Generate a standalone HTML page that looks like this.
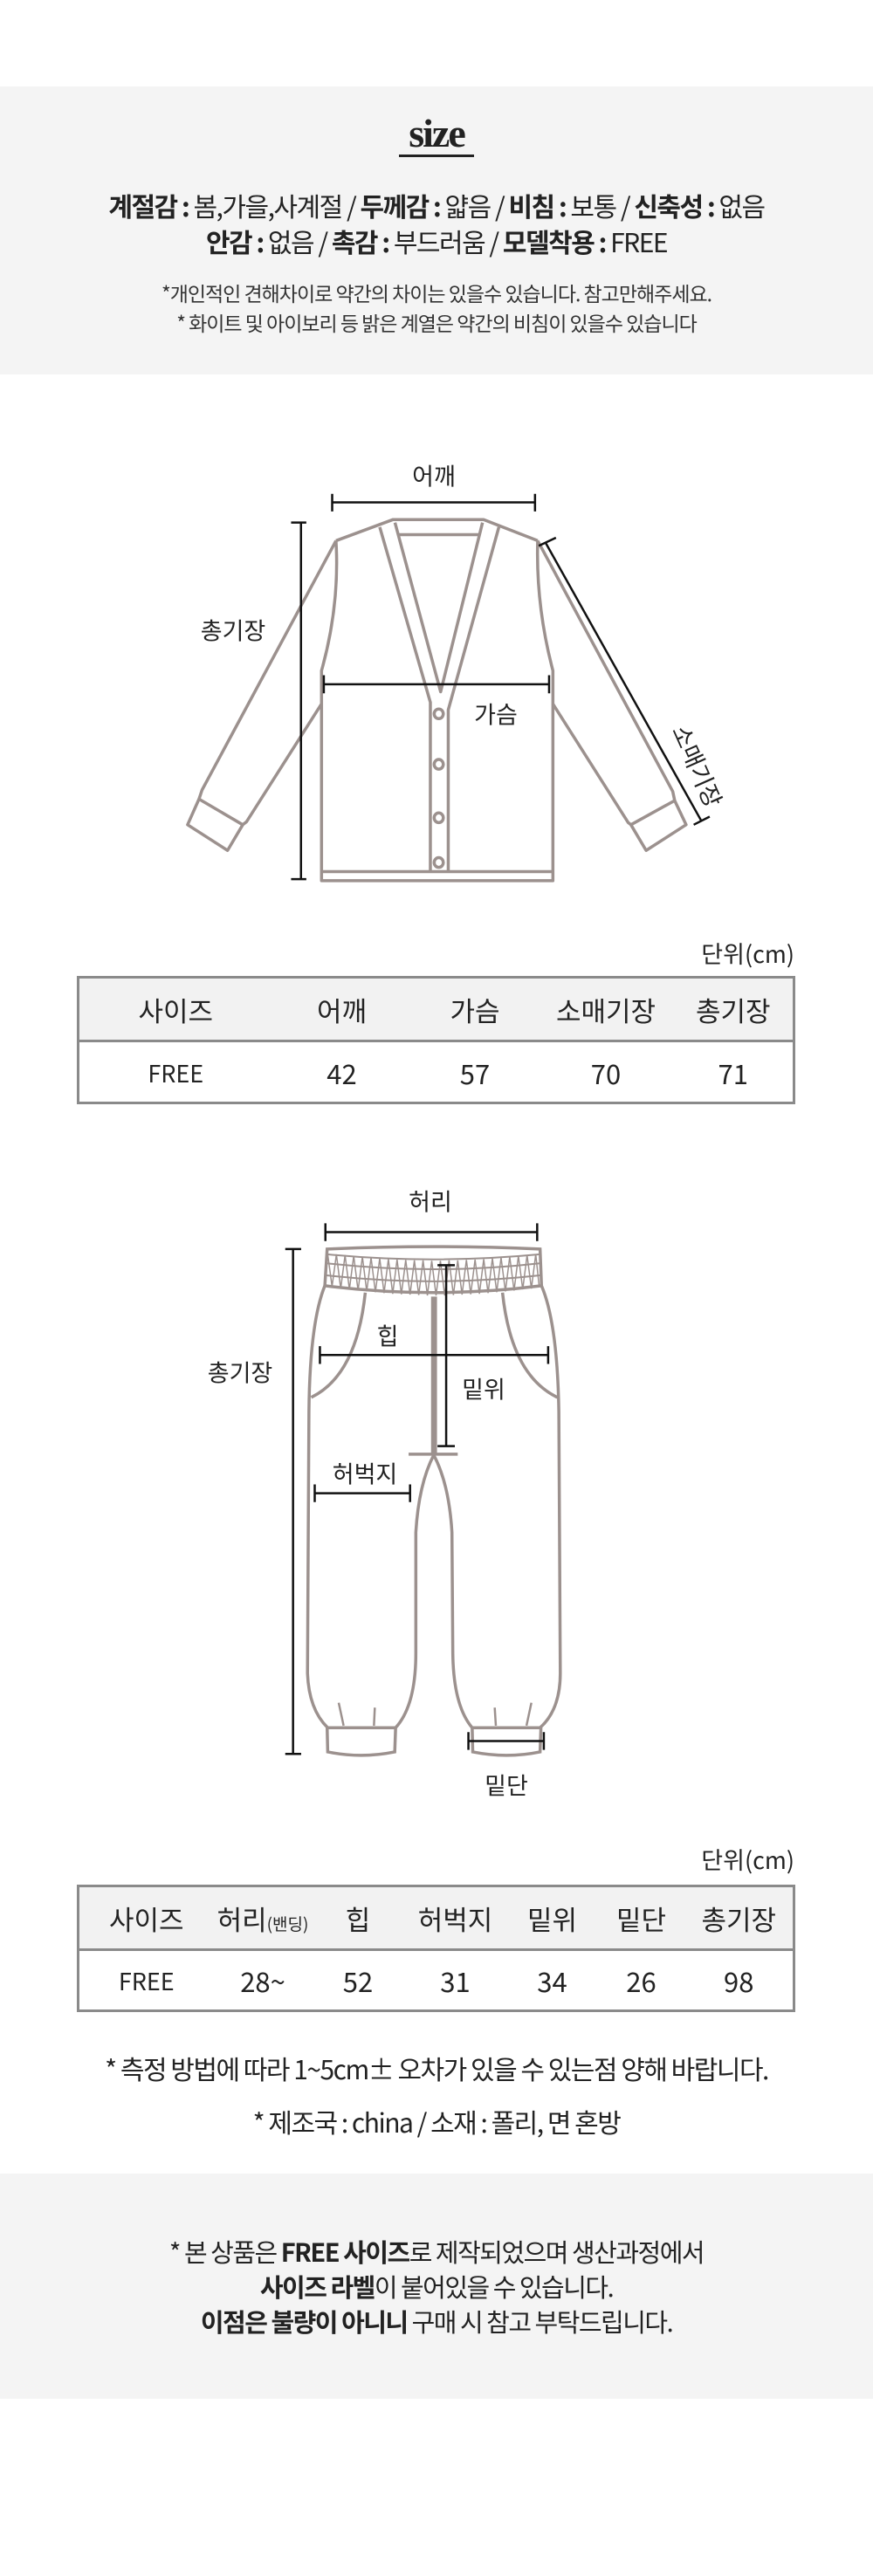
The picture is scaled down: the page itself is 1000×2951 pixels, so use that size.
<!DOCTYPE html>
<html><head><meta charset="utf-8">
<style>
*{margin:0;padding:0;box-sizing:border-box}
body{width:1000px;height:2951px;background:#fff;position:relative;font-family:"Liberation Sans","Noto Sans CJK KR",sans-serif;color:#222;overflow:hidden}
.abs{position:absolute}
.c{position:absolute;left:0;width:1000px;text-align:center;white-space:nowrap}
.grey{position:absolute;left:0;width:1000px;background:#f4f4f4}
.lbl{position:absolute;font-size:27px;transform:translate(-50%,-50%);white-space:nowrap;font-family:"Noto Sans CJK KR",sans-serif}
table{position:absolute;border-collapse:collapse;border:3px solid #8a8a8a;font-family:"Noto Sans CJK KR",sans-serif;table-layout:fixed}
td{text-align:center;font-size:31px;color:#222;padding:0}
tr.h td{background:#f2f2f2;border-bottom:3px solid #8a8a8a}
svg{position:absolute;overflow:visible}
</style></head><body>

<div class="grey" style="top:99px;height:330px"></div>
<div class="c" style="top:128px;font-family:'Liberation Serif',serif;font-weight:bold;font-size:46px;letter-spacing:-2px;line-height:50px">size</div>
<div class="abs" style="left:457px;top:177px;width:86px;height:3px;background:#222"></div>
<div class="c" style="top:215px;font-size:30px;line-height:40px;font-family:'Noto Sans CJK KR',sans-serif;letter-spacing:-1.5px"><b>계절감 :</b> 봄,가을,사계절 / <b>두께감 :</b> 얇음 / <b>비침 :</b> 보통 / <b>신축성 :</b> 없음</div>
<div class="c" style="top:256px;font-size:30px;line-height:40px;font-family:'Noto Sans CJK KR',sans-serif;letter-spacing:-1.5px"><b>안감 :</b> 없음 / <b>촉감 :</b> 부드러움 / <b>모델착용 :</b> FREE</div>
<div class="c" style="top:320px;font-size:23px;line-height:30px;font-family:'Noto Sans CJK KR',sans-serif;letter-spacing:-1px;color:#333">*개인적인 견해차이로 약간의 차이는 있을수 있습니다. 참고만해주세요.</div>
<div class="c" style="top:354px;font-size:23px;line-height:30px;font-family:'Noto Sans CJK KR',sans-serif;letter-spacing:-1px;color:#333">* 화이트 및 아이보리 등 밝은 계열은 약간의 비침이 있을수 있습니다</div>

<!-- cardigan -->
<svg style="left:180px;top:500px" width="680" height="540" viewBox="0 0 1560 1560" preserveAspectRatio="none">
<g fill="none" stroke="#9c918e" stroke-width="3.5" stroke-linejoin="round">
<path vector-effect="non-scaling-stroke" d="M470 345 L620 275 L858 275 L1000 345"/>
<path vector-effect="non-scaling-stroke" d="M632 325 L850 325"/>
<path vector-effect="non-scaling-stroke" d="M585 300 L718 880 L718 1440"/>
<path vector-effect="non-scaling-stroke" d="M898 300 L765 905 L765 1440"/>
<path vector-effect="non-scaling-stroke" d="M625 285 L745 845 L855 285"/>
<ellipse vector-effect="non-scaling-stroke" cx="740" cy="918" rx="12" ry="16"/>
<ellipse vector-effect="non-scaling-stroke" cx="740" cy="1085" rx="12" ry="16"/>
<ellipse vector-effect="non-scaling-stroke" cx="740" cy="1262" rx="12" ry="16"/>
<ellipse vector-effect="non-scaling-stroke" cx="740" cy="1410" rx="12" ry="16"/>
<path vector-effect="non-scaling-stroke" d="M470 345 Q480 560 432 775 L432 1470 L1040 1470 L1040 775 Q995 560 1000 345"/>
<path vector-effect="non-scaling-stroke" d="M432 1440 L1040 1440"/>
<path vector-effect="non-scaling-stroke" d="M470 345 L118 1170 L110 1200 L80 1285 L185 1370 L225 1285 L235 1275 L432 885"/>
<path vector-effect="non-scaling-stroke" d="M110 1200 L225 1285"/>
<path vector-effect="non-scaling-stroke" d="M1000 345 L1355 1175 L1360 1205 L1390 1285 L1285 1370 L1245 1285 L1238 1278 L1040 885"/>
<path vector-effect="non-scaling-stroke" d="M1360 1205 L1245 1285"/>
</g>
<g fill="none" stroke="#111" stroke-width="2.5">
<path vector-effect="non-scaling-stroke" d="M460 218 L993 218 M460 190 L460 248 M993 190 L993 248"/>
<path vector-effect="non-scaling-stroke" d="M378 285 L378 1465 M352 285 L392 285 M352 1465 L392 1465"/>
<path vector-effect="non-scaling-stroke" d="M438 820 L1030 820 M438 790 L438 850 M1030 790 L1030 850"/>
<path vector-effect="non-scaling-stroke" d="M1020 350 L1430 1272 M1003 362 L1048 335 M1410 1285 L1452 1258"/>
</g>
</svg>
<div class="lbl" style="left:497px;top:544px">어깨</div>
<div class="lbl" style="left:267px;top:721px">총기장</div>
<div class="lbl" style="left:568px;top:817px">가슴</div>
<div class="lbl" style="left:800px;top:877px;transform:translate(-50%,-50%) rotate(66deg)">소매기장</div>

<div class="abs" style="right:90px;top:1072px;font-size:27px;font-family:'Noto Sans CJK KR',sans-serif">단위(cm)</div>
<table style="left:88px;top:1118px;width:823px;height:147px">
<tr class="h" style="height:73px"><td style="width:222px">사이즈</td><td style="width:160px">어깨</td><td style="width:145px">가슴</td><td style="width:155px">소매기장</td><td>총기장</td></tr>
<tr><td style="font-size:27px">FREE</td><td>42</td><td>57</td><td>70</td><td>71</td></tr>
</table>

<!-- pants -->
<svg style="left:200px;top:1340px" width="460" height="720" viewBox="0 0 1390 1560" preserveAspectRatio="none">
<g fill="none" stroke="#9c918e" stroke-width="3.5">
<path vector-effect="non-scaling-stroke" d="M528 197 Q897 185 1265 197 L1270 288 Q897 322 520 288 Z"/>
<path vector-effect="non-scaling-stroke" stroke-width="2" d="M528 210 Q897 235 1265 210 M525 232 Q897 262 1267 232 M523 262 Q897 292 1268 262"/>
<path vector-effect="non-scaling-stroke" stroke-width="1.5" d="M530 210 L545 290 L560 210 L575 295 L590 212 L605 297 L620 214 L635 300 L650 216 L665 302 L680 218 L695 304 L710 220 L725 306 L740 222 L755 308 L770 223 L785 309 L800 224 L815 310 L830 225 L845 311 L860 225 L875 312 L890 226 L905 312 L920 226 L935 312 L950 225 L965 311 L980 225 L995 310 L1010 224 L1025 309 L1040 223 L1055 308 L1070 222 L1085 306 L1100 220 L1115 304 L1130 218 L1145 302 L1160 216 L1175 300 L1190 214 L1205 297 L1220 212 L1235 295 L1250 210 L1262 290"/>
<path vector-effect="non-scaling-stroke" d="M520 288 Q468 380 465 600 L460 1250 Q465 1340 530 1385 L765 1385 Q835 1330 835 1200 L835 900 Q845 780 897 708 Q950 780 960 900 L963 1200 Q965 1330 1030 1385 L1265 1385 Q1335 1340 1335 1250 L1330 600 Q1325 380 1270 288"/>
<path vector-effect="non-scaling-stroke" d="M528 1385 L530 1445 Q645 1462 762 1445 L765 1385 M1030 1385 L1032 1445 Q1150 1462 1265 1445 L1268 1385"/>
<path vector-effect="non-scaling-stroke" d="M893 315 L893 705 M903 315 L903 705 M810 706 L980 706"/>
<path vector-effect="non-scaling-stroke" d="M660 305 Q630 510 473 565 M1135 305 Q1165 510 1325 565"/>
<path vector-effect="non-scaling-stroke" stroke-width="2.5" d="M568 1323 L585 1380 M693 1335 L690 1380 M1108 1335 L1112 1380 M1235 1323 L1218 1380"/>
</g>
<g fill="none" stroke="#111" stroke-width="2.5">
<path vector-effect="non-scaling-stroke" d="M522 155 L1255 155 M522 133 L522 177 M1255 133 L1255 177"/>
<path vector-effect="non-scaling-stroke" d="M503 460 L1293 460 M503 438 L503 482 M1293 438 L1293 482"/>
<path vector-effect="non-scaling-stroke" d="M940 237 L940 686 M910 237 L970 237 M910 686 L970 686"/>
<path vector-effect="non-scaling-stroke" d="M485 803 L815 803 M485 781 L485 825 M815 781 L815 825"/>
<path vector-effect="non-scaling-stroke" d="M1017 1418 L1278 1418 M1017 1396 L1017 1440 M1278 1396 L1278 1440"/>
<path vector-effect="non-scaling-stroke" d="M410 197 L410 1450 M383 197 L438 197 M383 1450 L438 1450"/>
</g>
</svg>
<div class="lbl" style="left:493px;top:1375px">허리</div>
<div class="lbl" style="left:444px;top:1529px">힙</div>
<div class="lbl" style="left:554px;top:1590px">밑위</div>
<div class="lbl" style="left:418px;top:1687px">허벅지</div>
<div class="lbl" style="left:275px;top:1571px">총기장</div>
<div class="lbl" style="left:580px;top:2044px">밑단</div>

<div class="abs" style="right:90px;top:2110px;font-size:27px;font-family:'Noto Sans CJK KR',sans-serif">단위(cm)</div>
<table style="left:88px;top:2159px;width:823px;height:146px">
<tr class="h" style="height:73px"><td style="width:155px">사이즈</td><td style="width:113px">허리<span style="font-size:19px">(밴딩)</span></td><td style="width:105px">힙</td><td style="width:118px">허벅지</td><td style="width:104px">밑위</td><td style="width:100px">밑단</td><td>총기장</td></tr>
<tr><td style="font-size:27px">FREE</td><td>28~</td><td>52</td><td>31</td><td>34</td><td>26</td><td>98</td></tr>
</table>
<div class="c" style="top:2350px;font-size:30px;line-height:38px;font-family:'Noto Sans CJK KR',sans-serif;letter-spacing:-1.5px">* 측정 방법에 따라 1~5cm± 오차가 있을 수 있는점 양해 바랍니다.</div>
<div class="c" style="top:2411px;font-size:30px;line-height:38px;font-family:'Noto Sans CJK KR',sans-serif;letter-spacing:-1.5px">* 제조국 : china / 소재 : 폴리, 면 혼방</div>

<div class="grey" style="top:2490px;height:258px"></div>
<div class="c" style="top:2560px;font-size:29px;line-height:38px;font-family:'Noto Sans CJK KR',sans-serif;letter-spacing:-1.5px">* 본 상품은 <b>FREE 사이즈</b>로 제작되었으며 생산과정에서</div>
<div class="c" style="top:2600px;font-size:29px;line-height:38px;font-family:'Noto Sans CJK KR',sans-serif;letter-spacing:-1.5px"><b>사이즈 라벨</b>이 붙어있을 수 있습니다.</div>
<div class="c" style="top:2640px;font-size:29px;line-height:38px;font-family:'Noto Sans CJK KR',sans-serif;letter-spacing:-1.5px"><b>이점은 불량이 아니니</b> 구매 시 참고 부탁드립니다.</div>
</body></html>
